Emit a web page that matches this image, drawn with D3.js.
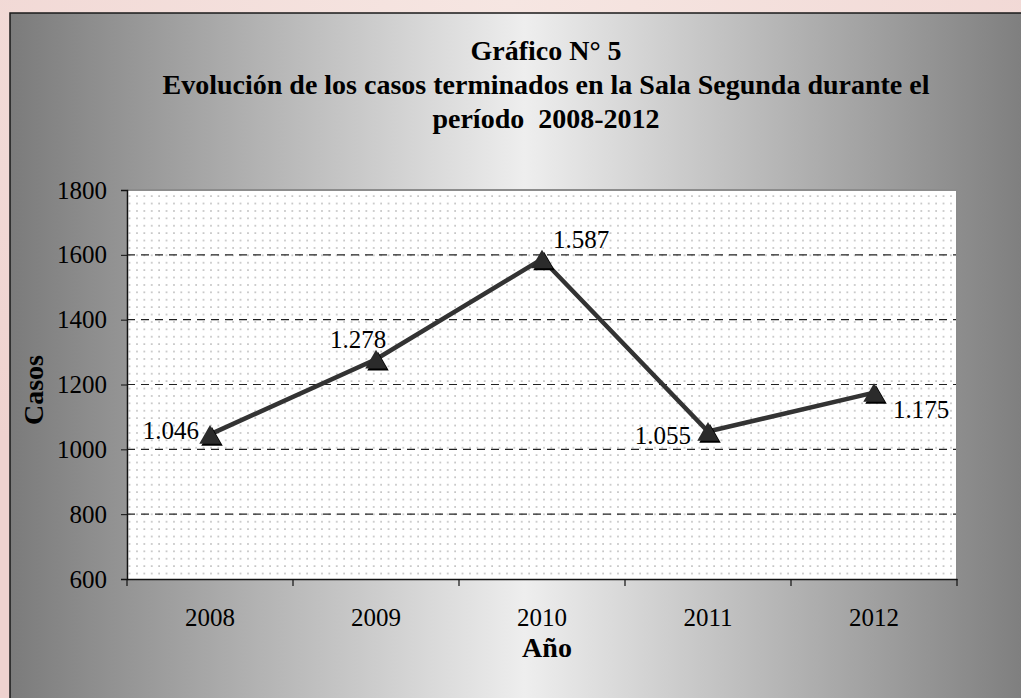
<!DOCTYPE html>
<html>
<head>
<meta charset="utf-8">
<script src="https://cdn.jsdelivr.net/npm/d3@7"></script>
<style>
  body { margin: 0; overflow: hidden; }
  svg { display: block; }
  text { white-space: pre; }
</style>
</head>
<body>
<svg id="chart"></svg>
<script>
var years = ["2008", "2009", "2010", "2011", "2012"];
var casos = [1046, 1278, 1587, 1055, 1175];
var labels = ["1.046", "1.278", "1.587", "1.055", "1.175"];
var yTicks = [600, 800, 1000, 1200, 1400, 1600, 1800];
var titleLines = ["Gráfico N° 5", "Evolución de los casos terminados en la Sala Segunda durante el", "período  2008-2012"];

var width = 1021, height = 698;
var font = "'Liberation Serif', 'Times New Roman', serif";

var svg = d3.select("#chart").attr("width", width).attr("height", height);
var defs = svg.append("defs");

// fondo rosado de la diapositiva
var bg = defs.append("radialGradient").attr("id", "bg").attr("cx", "50%").attr("cy", "0%").attr("r", "80%");
bg.append("stop").attr("offset", "0%").attr("stop-color", "#f6e6e2");
bg.append("stop").attr("offset", "100%").attr("stop-color", "#efd2cf");

// degradado gris del marco
var fr = defs.append("linearGradient").attr("id", "frame").attr("x1", "0%").attr("x2", "100%");
fr.append("stop").attr("offset", "0%").attr("stop-color", "#7b7b7b");
fr.append("stop").attr("offset", "50%").attr("stop-color", "#eeeeee");
fr.append("stop").attr("offset", "100%").attr("stop-color", "#7b7b7b");

// patrón de puntos del área de trazado
var pat = defs.append("pattern").attr("id", "dots")
    .attr("patternUnits", "userSpaceOnUse").attr("width", 7.4).attr("height", 7.4);
pat.append("rect").attr("width", 7.4).attr("height", 7.4).attr("fill", "#ffffff");
pat.append("rect").attr("x", 3).attr("y", 3).attr("width", 1.5).attr("height", 1.5).attr("fill", "#b0b0b0");

svg.append("rect").attr("width", width).attr("height", height).attr("fill", "url(#bg)");
svg.append("rect")
    .attr("x", 10).attr("y", 13).attr("width", 1030).attr("height", 700)
    .attr("fill", "url(#frame)").attr("stroke", "#1a1a1a").attr("stroke-width", 1.5);

var plot = { left: 127, top: 190, right: 957, bottom: 579 };

var x = d3.scaleBand().domain(years).range([plot.left, plot.right]);
var y = d3.scaleLinear().domain([600, 1800]).range([plot.bottom, plot.top]);

svg.append("rect")
    .attr("x", plot.left).attr("y", plot.top)
    .attr("width", plot.right - plot.left).attr("height", plot.bottom - plot.top)
    .attr("fill", "url(#dots)");

// líneas de división
svg.append("g").selectAll("line")
    .data(yTicks.filter(function(d) { return d > 600 && d < 1800; }))
    .enter().append("line")
    .attr("x1", plot.left).attr("x2", plot.right)
    .attr("y1", function(d) { return y(d); }).attr("y2", function(d) { return y(d); })
    .attr("stroke", "#222").attr("stroke-width", 1.2).attr("stroke-dasharray", "8,6");

// borde gris arriba y a la derecha
svg.append("path")
    .attr("d", "M" + plot.left + "," + plot.top + "H" + plot.right + "V" + plot.bottom)
    .attr("fill", "none").attr("stroke", "#8c8c8c").attr("stroke-width", 2);

// ejes
var yAxis = svg.append("g")
    .attr("transform", "translate(" + plot.left + ",0)")
    .call(d3.axisLeft(y).tickValues(yTicks).tickSize(6).tickPadding(14).tickFormat(d3.format("d")));
yAxis.select(".domain").attr("stroke", "#111").attr("stroke-width", 1.5);
yAxis.selectAll(".tick line").attr("stroke", "#111");
yAxis.selectAll("text").attr("font-family", font).attr("font-size", 25).attr("fill", "#000");

var xAxis = svg.append("g")
    .attr("transform", "translate(0," + plot.bottom + ")")
    .call(d3.axisBottom(x).tickSize(0).tickPadding(29));
xAxis.select(".domain").attr("stroke", "#111").attr("stroke-width", 1.5);
xAxis.selectAll("text").attr("font-family", font).attr("font-size", 25).attr("fill", "#000");

// marcas entre categorías
var bounds = years.map(function(d) { return x(d); }).concat([plot.right]);
xAxis.selectAll(".sep").data(bounds).enter().append("line")
    .attr("class", "sep")
    .attr("x1", function(d) { return d; }).attr("x2", function(d) { return d; })
    .attr("y1", 0).attr("y2", 7)
    .attr("stroke", "#111").attr("stroke-width", 1.2);

// serie
var pts = years.map(function(d, i) { return { year: d, v: casos[i], label: labels[i] }; });
var cx = function(d) { return x(d.year) + x.bandwidth() / 2; };

svg.append("path")
    .datum(pts)
    .attr("d", d3.line().x(cx).y(function(d) { return y(d.v); }))
    .attr("fill", "none").attr("stroke", "#333").attr("stroke-width", 4.5)
    .attr("stroke-linejoin", "miter");

var tri = d3.symbol().type(d3.symbolTriangle).size(200);
var mk = svg.append("g").selectAll("g").data(pts).enter().append("g")
    .attr("transform", function(d) { return "translate(" + cx(d) + "," + (y(d.v) + 3) + ")"; });
mk.append("path").attr("d", tri).attr("transform", "translate(2,2)").attr("fill", "#000");
mk.append("path").attr("d", tri).attr("fill", "#2b2b2b");

// etiquetas de datos
var labelPos = [
    { dx: -11, dy: 5, anchor: "end" },
    { dx: -18, dy: -11, anchor: "middle" },
    { dx: 11, dy: -11, anchor: "start" },
    { dx: -17, dy: 12, anchor: "end" },
    { dx: 19, dy: 25, anchor: "start" }
];
svg.append("g").selectAll("text").data(pts).enter().append("text")
    .attr("x", function(d, i) { return cx(d) + labelPos[i].dx; })
    .attr("y", function(d, i) { return y(d.v) + labelPos[i].dy; })
    .attr("text-anchor", function(d, i) { return labelPos[i].anchor; })
    .attr("font-family", font).attr("font-size", 25).attr("fill", "#000")
    .text(function(d) { return d.label; });

// títulos
svg.append("g").selectAll("text").data(titleLines).enter().append("text")
    .attr("x", 546)
    .attr("y", function(d, i) { return 60 + i * 34; })
    .attr("text-anchor", "middle")
    .attr("font-family", font).attr("font-size", 28).attr("font-weight", "bold")
    .text(function(d) { return d; });

svg.append("text")
    .attr("transform", "translate(43,390) rotate(-90)")
    .attr("text-anchor", "middle")
    .attr("font-family", font).attr("font-size", 28).attr("font-weight", "bold")
    .text("Casos");

svg.append("text")
    .attr("x", 547).attr("y", 657)
    .attr("text-anchor", "middle")
    .attr("font-family", font).attr("font-size", 28).attr("font-weight", "bold")
    .text("Año");
</script>
</body>
</html>
